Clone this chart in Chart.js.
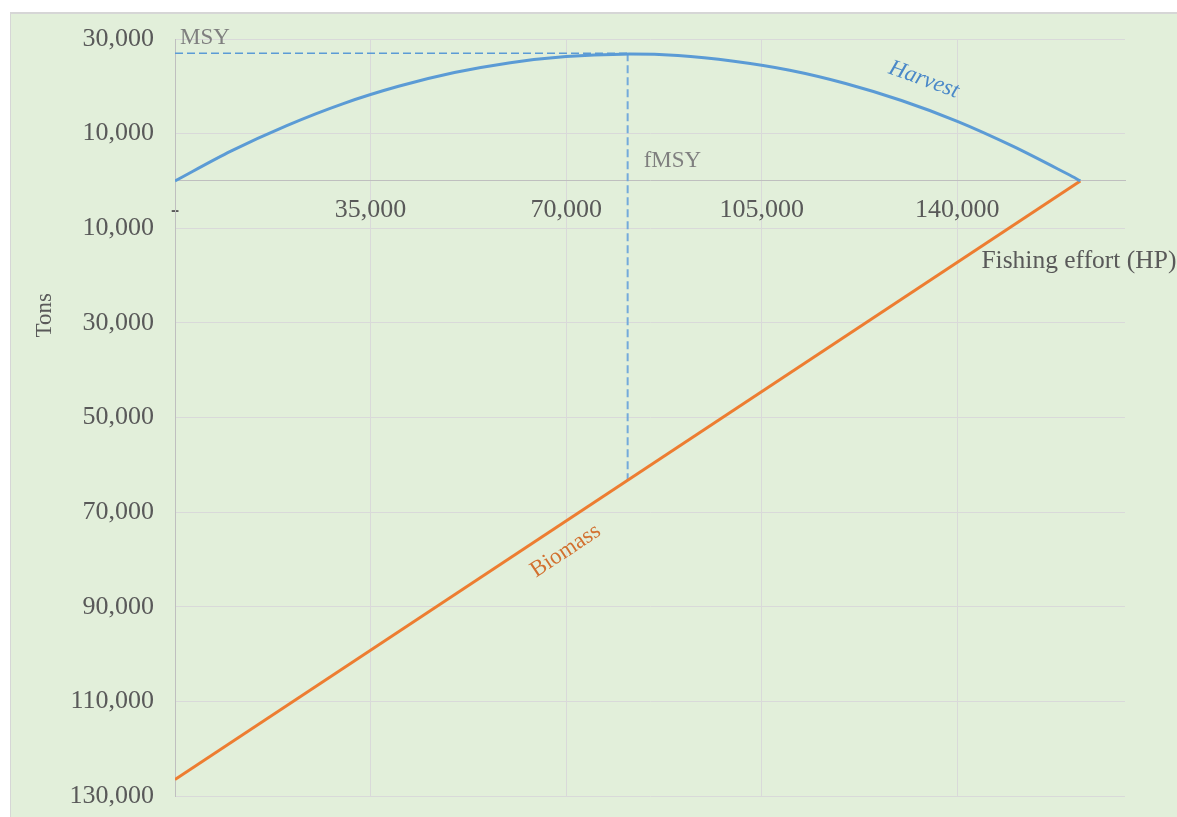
<!DOCTYPE html>
<html>
<head>
<meta charset="utf-8">
<script src="https://cdn.jsdelivr.net/npm/chart.js@4"></script>
<style>
  html, body { margin: 0; padding: 0; background: #fff; overflow: hidden; }
  #fond {
    position: absolute; left: 10px; top: 12px; width: 1300px; height: 900px;
    background: #e2efda; border-left: 1px solid #d6d6d6; border-top: 2px solid #d6d6d6;
  }
  #graphique { position: absolute; left: 0; top: 0; }
</style>
</head>
<body>
<div id="fond"></div>
<canvas id="graphique" width="1177" height="817"></canvas>
<script>
// Effort de pêche (HP) et capture correspondante (tonnes)
const effort = [0, 10000, 20000, 30000, 40000, 50000, 60000, 70000, 80000, 90000,
                100000, 110000, 120000, 130000, 140000, 150000, 160000, 162000];
const harvest = [0, 6300, 11700, 16300, 20000, 22900, 25000, 26300, 26800, 26500,
                 25300, 23400, 20600, 17000, 12600, 7300, 1300, 0];

// Biomasse, tracée vers le bas (valeurs négatives)
const biomassEffort = [0, 162000];
const biomass = [-126500, 0];

// Point de rendement maximal durable
const fMsy = 81000;
const msy = 27000;
const biomassAtFmsy = -63250;

// Graduations des axes
const xTicks = [0, 35000, 70000, 105000, 140000];
const yTicks = [30000, 10000, -10000, -30000, -50000, -70000, -90000, -110000, -130000];

const police = 'Liberation Serif';

function toPoints(xs, ys) {
    return xs.map((v, i) => ({ x: v, y: ys[i] }));
}

// Textes posés sur le graphique (MSY, fMSY, noms des courbes, titres des axes)
const etiquettes = {
    id: 'etiquettes',
    afterDatasetsDraw(chart) {
        const { ctx, scales: { x, y } } = chart;
        ctx.save();
        ctx.textBaseline = 'alphabetic';
        ctx.textAlign = 'left';

        ctx.font = '23px "' + police + '"';
        ctx.fillStyle = '#7f7f7f';
        ctx.fillText('MSY', x.getPixelForValue(0) + 5, y.getPixelForValue(msy) - 9);
        ctx.fillText('fMSY', x.getPixelForValue(fMsy) + 16, y.getPixelForValue(3000));

        ctx.font = '25.5px "' + police + '"';
        ctx.fillStyle = '#595959';
        ctx.fillText('Fishing effort (HP)', x.getPixelForValue(144300), y.getPixelForValue(-18300));

        // titre de l'axe Y, un peu au-dessus du milieu
        ctx.save();
        ctx.translate(45, y.getPixelForValue(-28400));
        ctx.rotate(-Math.PI / 2);
        ctx.textAlign = 'center';
        ctx.textBaseline = 'middle';
        ctx.font = '23px "' + police + '"';
        ctx.fillText('Tons', 0, 0);
        ctx.restore();

        // nom de la courbe de capture, en biais le long de la courbe
        ctx.save();
        ctx.translate(x.getPixelForValue(134000), y.getPixelForValue(21400));
        ctx.rotate(20 * Math.PI / 180);
        ctx.textAlign = 'center';
        ctx.textBaseline = 'middle';
        ctx.font = 'italic 23px "' + police + '"';
        ctx.fillStyle = '#4a88c8';
        ctx.fillText('Harvest', 0, 0);
        ctx.restore();

        ctx.save();
        ctx.translate(x.getPixelForValue(69900), y.getPixelForValue(-78200));
        ctx.rotate(-33.5 * Math.PI / 180);
        ctx.textAlign = 'center';
        ctx.textBaseline = 'middle';
        ctx.font = '23px "' + police + '"';
        ctx.fillStyle = '#d2702f';
        ctx.fillText('Biomass', 0, 0);
        ctx.restore();

        ctx.restore();
    }
};

const ctx = document.getElementById('graphique').getContext('2d');
const myChart = new Chart(ctx, {
    type: 'line',
    data: {
        datasets: [
            {
                label: 'Harvest',
                data: toPoints(effort, harvest),
                borderColor: '#5b9bd5',
                borderWidth: 3,
                pointRadius: 0,
                tension: 0.3
            },
            {
                label: 'Biomass',
                data: toPoints(biomassEffort, biomass),
                borderColor: '#ed7d31',
                borderWidth: 3,
                pointRadius: 0
            },
            {
                label: 'MSY',
                data: toPoints([0, fMsy], [msy, msy]),
                borderColor: '#5b9bd5',
                borderWidth: 1.5,
                borderDash: [8, 4],
                pointRadius: 0
            },
            {
                label: 'fMSY',
                data: toPoints([fMsy, fMsy], [msy, biomassAtFmsy]),
                borderColor: '#74aadb',
                borderWidth: 2,
                borderDash: [8, 4],
                pointRadius: 0
            }
        ]
    },
    options: {
        responsive: false,
        animation: false,
        layout: { padding: { left: 30, top: 39, right: 52, bottom: 21 } },
        plugins: {
            legend: { display: false },
            tooltip: { enabled: false }
        },
        scales: {
            x: {
                type: 'linear',
                min: 0,
                max: 170000,
                position: { y: 0 },
                afterBuildTicks: scale => { scale.ticks = xTicks.map(v => ({ value: v })); },
                ticks: {
                    callback: v => v === 0 ? '-' : v.toLocaleString('en-US'),
                    color: '#595959',
                    font: { family: police, size: 26 },
                    padding: 14,
                    maxRotation: 0,
                    autoSkip: false
                },
                grid: { color: '#d9d9d9', drawTicks: false },
                border: { color: '#bfbfbf' }
            },
            y: {
                type: 'linear',
                min: -130000,
                max: 30000,
                afterBuildTicks: scale => { scale.ticks = yTicks.map(v => ({ value: v })); },
                // largeur fixe, et pas de marge ajoutée en haut / en bas pour les libellés
                afterFit: scale => {
                    scale.width = 145;
                    scale.paddingTop = 0;
                    scale.paddingBottom = 0;
                },
                ticks: {
                    callback: v => Math.abs(v).toLocaleString('en-US'),
                    color: '#595959',
                    font: { family: police, size: 26 },
                    padding: 21
                },
                grid: { color: '#d9d9d9', drawTicks: false },
                border: { color: '#bfbfbf' }
            }
        }
    },
    plugins: [etiquettes]
});
</script>
</body>
</html>
